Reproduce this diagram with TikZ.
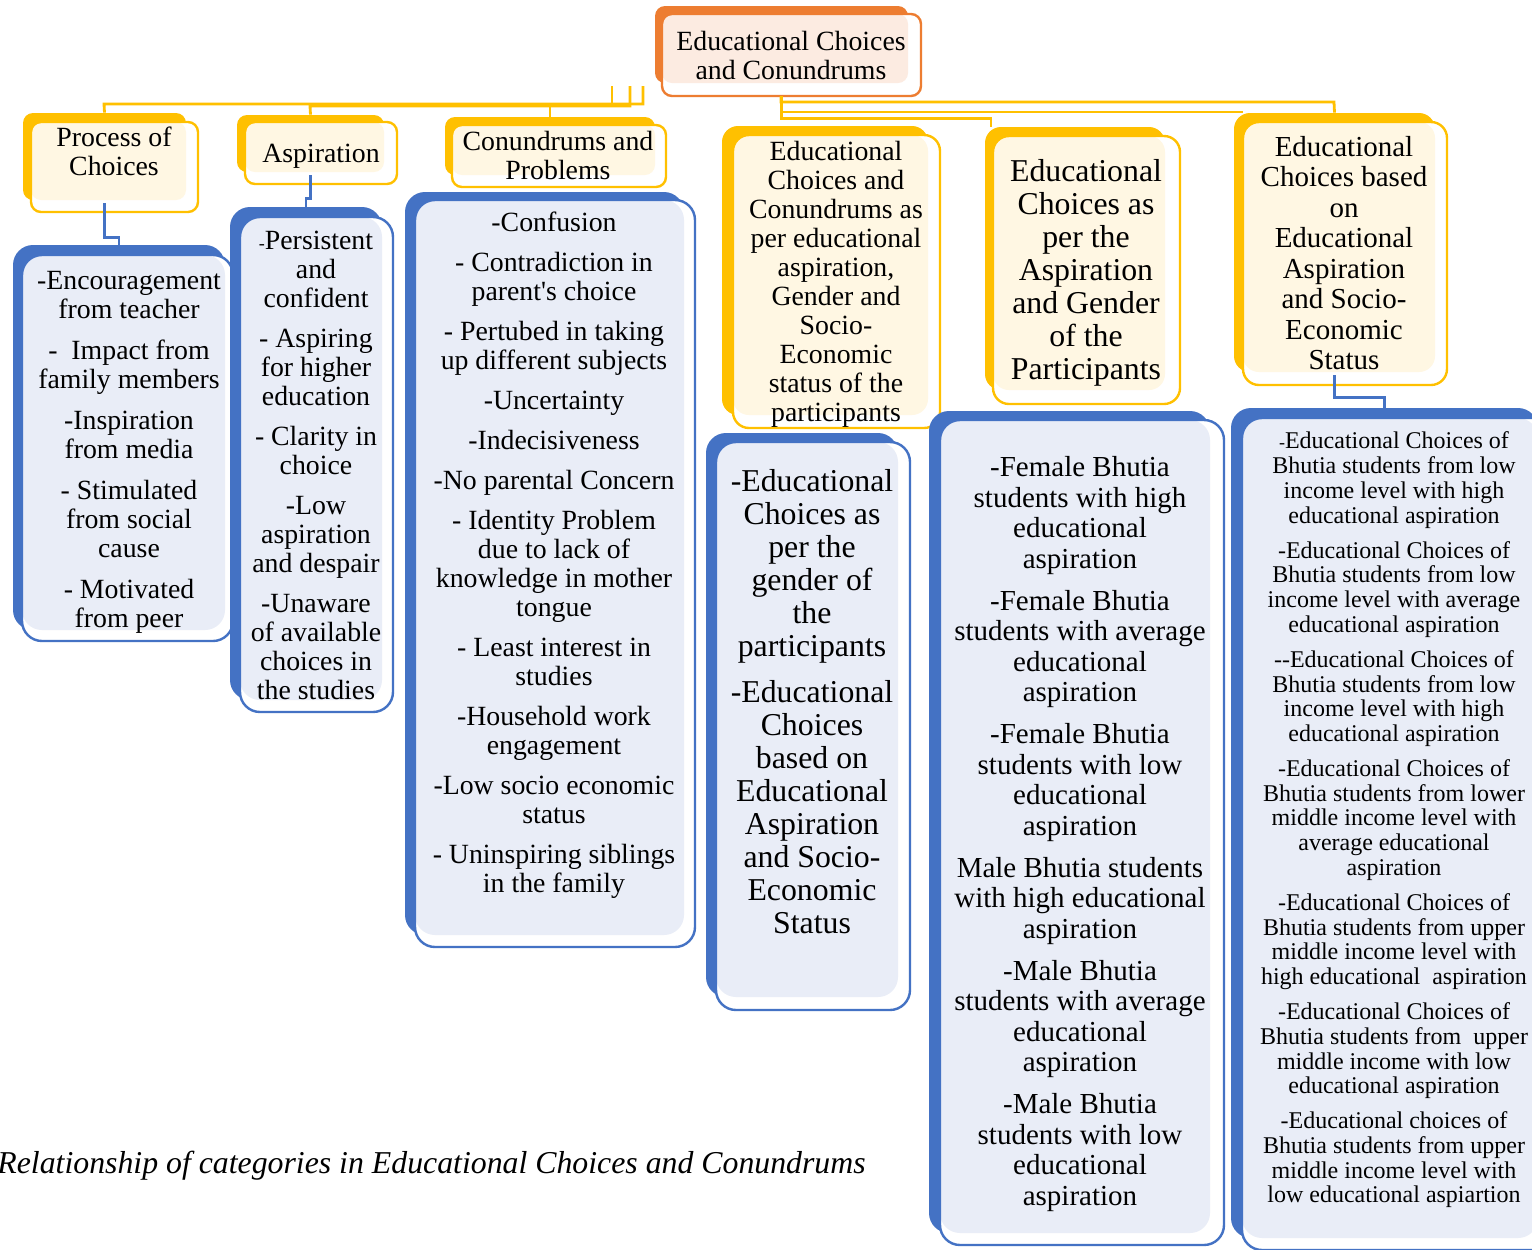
\documentclass[tikz,border=0pt]{standalone}
\usepackage{fontspec}
\setmainfont{Liberation Serif}[Ligatures=TeXOff]
\usetikzlibrary{fit,calc}

\definecolor{ygold}{HTML}{FFC000}
\definecolor{ygoldlight}{HTML}{FFF7E3}
\definecolor{ored}{HTML}{ED7D31}
\definecolor{oredlight}{HTML}{FCEBE1}
\definecolor{bblue}{HTML}{4472C4}
\definecolor{bbluelight}{HTML}{E9EDF7}

\newcommand{\fsA}{\fontsize{13.9pt}{14.5pt}\selectfont}
\newcommand{\fsB}{\fontsize{15.9pt}{16.5pt}\selectfont}
\newcommand{\fsC}{\fontsize{14.5pt}{15.25pt}\selectfont}
\newcommand{\fsD}{\fontsize{12pt}{12.35pt}\selectfont}
\newcommand{\sdash}{{\fontsize{9pt}{9pt}\selectfont -}}

% layered box: #1 name, #2 colour, #3/#4 back corners, #5/#6 front corners, #7 radius
\newcommand{\layerbox}[7]{%
  \node[fit={(#3)(#4)}, inner sep=0pt, fill=#2, rounded corners=#7] (#1) {};
  \fill[white, rounded corners=#7] (#5) rectangle (#6);
  \fill[#2light, rounded corners=#7] (#5) rectangle (#4);
  \draw[#2, line width=1.2pt, rounded corners=#7] (#5) rectangle (#6);
}

\tikzset{
  txt/.style={align=center, inner sep=0pt},
  yconn/.style={draw=ygold, line width=1.4pt},
  bconn/.style={draw=bblue, line width=1.3pt},
}

\begin{document}
\begin{tikzpicture}[x=0.5pt, y=-0.5pt]
\clip (0,0) rectangle (1532,1249);
\fill[white] (0,0) rectangle (1532,1249);

% ---------- connector start points under the root ----------
\coordinate (rA) at (643,86);
\coordinate (rB) at (630,86);
\coordinate (rC) at (612,86);
\coordinate (rD) at (781,96);

% ---------- root ----------
\layerbox{root}{ored}{655,6}{908,83}{662,14}{921,96}{5pt}
\node[txt, font=\fsA] (root-t) at (791,55) {Educational Choices\\and Conundrums};

% ---------- headers ----------
\layerbox{h1}{ygold}{23,113}{186,200}{31,122}{198,212}{5pt}
\layerbox{h2}{ygold}{237,115}{384,172}{245,122}{397,184}{5pt}
\layerbox{h3}{ygold}{445,117}{655,175}{452,125}{666,187}{5pt}
\layerbox{h4}{ygold}{722,126}{928,415}{733,135}{940,428}{8pt}
\layerbox{h5}{ygold}{985,127}{1165,390}{993,136}{1180,404}{8pt}
\layerbox{h6}{ygold}{1234,113}{1435,372}{1243,122}{1447,385}{8pt}

\draw[yconn] (rA) |- (104,104) -- (h1.north);
\draw[yconn] (rB) |- (310,106) -- (h2.north);
\draw[yconn] (rC) |- (550,105) -- (h3.north);
\draw[yconn] (root.south) ++(0,13) -- ++(0,22) -| (991,127);
\draw[yconn] (rD) |- (1243,112);
\draw[yconn] (rD) |- (1334,102) -- (h6.north);

\node[txt, font=\fsA] (h1-t) at (114,151) {Process of\\Choices};
\node[txt, font=\fsA] (h2-t) at (321,156) {Aspiration};
\node[txt, font=\fsA] (h3-t) at (558,155) {Conundrums and\\Problems};
\node[txt, font=\fsA] (h4-t) at (836,284) {Educational\\Choices and\\Conundrums as\\per educational\\aspiration,\\Gender and\\Socio-\\Economic\\status of the\\participants};
\node[txt, font=\fsB] (h5-t) at (1086,273) {Educational\\Choices as\\per the\\Aspiration\\and Gender\\of the\\Participants};
\node[txt, font=\fsC] (h6-t) at (1344,253) {Educational\\Choices based\\on\\Educational\\Aspiration\\and Socio-\\Economic\\Status};

% ---------- detail boxes ----------
\layerbox{b1}{bblue}{13,245}{225,630}{22,255}{233,641}{10pt}
\layerbox{b2}{bblue}{230,207}{382,700}{240,217}{393,712}{10pt}
\layerbox{b3}{bblue}{405,192}{684,935}{415,200}{695,947}{10pt}
\layerbox{b4}{bblue}{706,433}{898,997}{716,442}{910,1010}{10pt}
\layerbox{b5}{bblue}{929,411}{1210,1233}{940,420}{1224,1245}{10pt}
\layerbox{b6}{bblue}{1231,408}{1538,1238}{1242,418}{1562,1250}{10pt}

\draw[bconn] ($(h1.south)+(0,3)$) -- ++(0,34) -| (b1.north);
\draw[bconn] ($(h2.south)+(0,3)$) -- ++(0,23) -| (b2.north);
\draw[bconn] ($(h6.south)+(0,3)$) -- ++(0,22) -| (b6.north);

\node[txt, font=\fsA] (b1-t) at (129,452) {-Encouragement\\from teacher\\[6pt]
 -~ Impact from\\family members\\[6pt]
 -Inspiration\\from media\\[6pt]
 - Stimulated\\from social\\cause\\[6pt]
 - Motivated\\from peer};

\node[txt, font=\fsA] (b2-t) at (316,465) {\sdash Persistent\\and\\confident\\[5.5pt]
 - Aspiring\\for higher\\education\\[5.5pt]
 - Clarity in\\choice\\[5.5pt]
 -Low\\aspiration\\and despair\\[5.5pt]
 -Unaware\\of available\\choices in\\the studies};

\node[txt, font=\fsA] (b3-t) at (554,555) {-Confusion\\[5.5pt]
 - Contradiction in\\parent's choice\\[5.5pt]
 - Pertubed in taking\\up different subjects\\[5.5pt]
 -Uncertainty\\[5.5pt]
 -Indecisiveness\\[5.5pt]
 -No parental Concern\\[5.5pt]
 - Identity Problem\\due to lack of\\knowledge in mother\\tongue\\[5.5pt]
 - Least interest in\\studies\\[5.5pt]
 -Household work\\engagement\\[5.5pt]
 -Low socio economic\\status\\[5.5pt]
 - Uninspiring siblings\\in the family};

\node[txt, font=\fsB] (b4-t) at (812,702) {-Educational\\Choices as\\per the\\gender of\\the\\participants\\[6.5pt]
 -Educational\\Choices\\based on\\Educational\\Aspiration\\and Socio-\\Economic\\Status};

\node[txt, font=\fsC] (b5-t) at (1080,834) {-Female Bhutia\\students with high\\educational\\aspiration\\[5.75pt]
 -Female Bhutia\\students with average\\educational\\aspiration\\[5.75pt]
 -Female Bhutia\\students with low\\educational\\aspiration\\[5.75pt]
 Male Bhutia students\\with high educational\\aspiration\\[5.75pt]
 -Male Bhutia\\students with average\\educational\\aspiration\\[5.75pt]
 -Male Bhutia\\students with low\\educational\\aspiration};

\node[txt, font=\fsD] (b6-t) at (1394,820) {\sdash Educational Choices of\\Bhutia students from low\\income level with high\\educational aspiration\\[5.2pt]
 -Educational Choices of\\Bhutia students from low\\income level with average\\educational aspiration\\[5.2pt]
 --Educational Choices of\\Bhutia students from low\\income level with high\\educational aspiration\\[5.2pt]
 -Educational Choices of\\Bhutia students from lower\\middle income level with\\average educational\\aspiration\\[5.2pt]
 -Educational Choices of\\Bhutia students from upper\\middle income level with\\high educational~ aspiration\\[5.2pt]
 -Educational Choices of\\Bhutia students from~ upper\\middle income with low\\educational aspiration\\[5.2pt]
 -Educational choices of\\Bhutia students from upper\\middle income level with\\low educational aspiartion};

% ---------- caption ----------
\node[anchor=west, inner sep=0pt, font=\fsB\itshape] (cap) at (-3,1166)
  {Relationship of categories in Educational Choices and Conundrums};
\end{tikzpicture}
\end{document}
